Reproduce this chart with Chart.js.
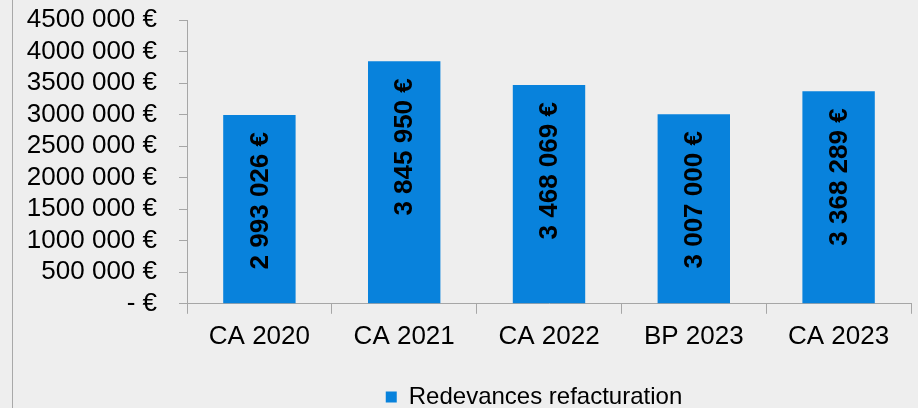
<!DOCTYPE html>
<html>
<head>
<meta charset="utf-8">
<script src="https://cdn.jsdelivr.net/npm/chart.js@4/dist/chart.umd.min.js"></script>
<style>
  html, body { margin: 0; padding: 0; background: #eeeeee; overflow: hidden; }
  #wrap { position: absolute; left: 12px; top: 0; width: 905px; height: 408px; overflow: hidden; border-left: 1px solid #a8a8a8; }
</style>
</head>
<body>
<div id="wrap"><canvas id="grafico" width="905" height="419"></canvas></div>
<script>
const categories = ['CA 2020', 'CA 2021', 'CA 2022', 'BP 2023', 'CA 2023'];
const redevances = [2993026, 3845950, 3468069, 3007000, 3368289];
const barLabels = ['2 993 026 €', '3 845 950 €', '3 468 069 €', '3 007 000 €', '3 368 289 €'];
const yTickLabels = ['- €', '500 000 €', '1000 000 €', '1500 000 €', '2000 000 €',
  '2500 000 €', '3000 000 €', '3500 000 €', '4000 000 €', '4500 000 €'];

const fontName = '"Liberation Sans", Arial, sans-serif';
const axisColor = '#a6a6a6';

// étiquettes verticales dans les barres
const etiquettes = {
  id: 'etiquettes',
  afterDatasetsDraw(chart) {
    const ctx = chart.ctx;
    const meta = chart.getDatasetMeta(0);
    ctx.save();
    ctx.fillStyle = '#000';
    ctx.font = 'bold 26px ' + fontName;
    ctx.textAlign = 'right';
    ctx.textBaseline = 'middle';
    meta.data.forEach((bar, i) => {
      ctx.save();
      ctx.translate(bar.x, bar.y + 17);
      ctx.rotate(-Math.PI / 2);
      ctx.fillText(barLabels[i], 0, 1);
      ctx.restore();
    });
    ctx.restore();
  }
};

// légende décalée vers la droite comme dans l'original
const decaleLegende = {
  id: 'decaleLegende',
  beforeDraw(chart) {
    const lg = chart.legend;
    if (!lg._decale) {
      lg.left += 72;
      lg.right += 72;
      lg._decale = true;
    }
  },
  afterLayout(chart) {
    chart.legend._decale = false;
  }
};

const config = {
  type: 'bar',
  data: {
    labels: categories,
    datasets: [{
      label: 'Redevances refacturation',
      data: redevances,
      backgroundColor: '#0882DC',
      borderWidth: 0,
      categoryPercentage: 1,
      barPercentage: 0.5
    }]
  },
  options: {
    responsive: false,
    animation: false,
    layout: { padding: { top: 0, right: 7, left: 0, bottom: 0 } },
    plugins: {
      tooltip: { enabled: false },
      legend: {
        position: 'bottom',
        labels: {
          color: '#000',
          font: { family: fontName, size: 24 },
          boxWidth: 11,
          boxHeight: 11,
          padding: 26
        }
      }
    },
    scales: {
      x: {
        grid: { display: true, drawOnChartArea: false, tickLength: 10, color: axisColor, offset: true },
        border: { color: axisColor },
        ticks: { color: '#000', font: { family: fontName, size: 26 }, padding: 7, maxRotation: 0 }
      },
      y: {
        min: 0,
        max: 4500000,
        afterFit(scale) {
          scale.width = 174;
          scale.paddingTop = 20;
          scale.paddingBottom = 0;
        },
        grid: { display: true, drawOnChartArea: false, tickLength: 8, color: axisColor },
        border: { color: axisColor },
        ticks: {
          stepSize: 500000,
          autoSkip: false,
          color: '#000',
          font: { family: fontName, size: 26 },
          padding: 22,
          callback: (v, i) => yTickLabels[i]
        }
      }
    }
  },
  plugins: [etiquettes, decaleLegende]
};

const ctx = document.getElementById('grafico').getContext('2d');
const chart = new Chart(ctx, config);
</script>
</body>
</html>
